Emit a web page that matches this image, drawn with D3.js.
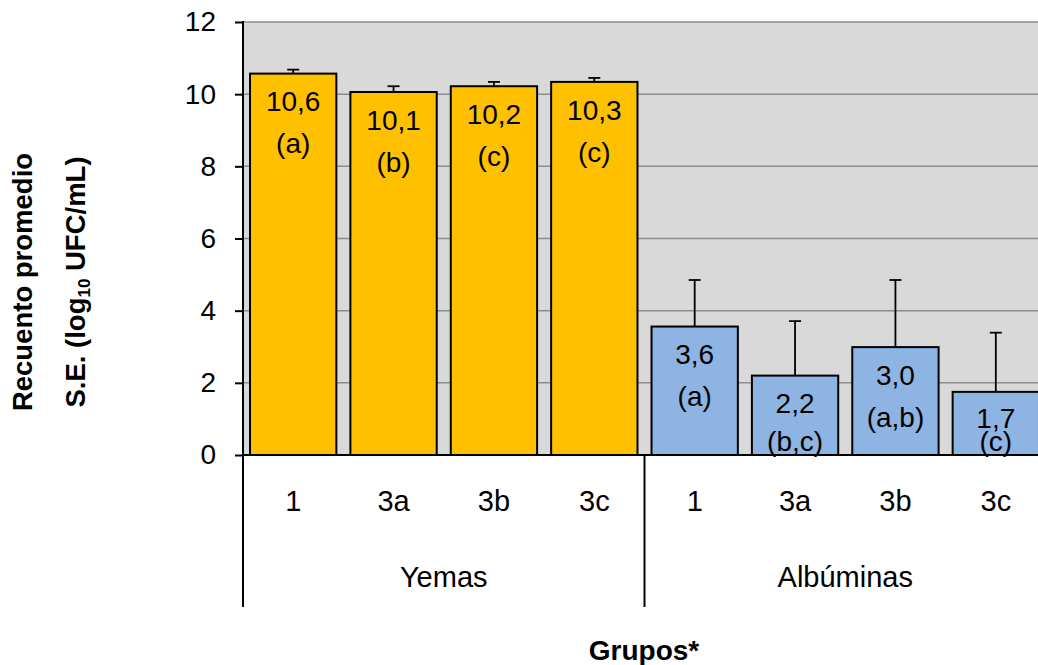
<!DOCTYPE html>
<html>
<head>
<meta charset="utf-8">
<script src="https://cdn.jsdelivr.net/npm/d3@7"></script>
<style>
  body { margin: 0; background: #fff; }
  svg text { font-family: "Liberation Sans", Arial, sans-serif; fill: #000; }
</style>
</head>
<body>
<svg width="1038" height="665"></svg>
<script>
// Data
const groups = ["Yemas", "Albúminas"];
const categories = ["1", "3a", "3b", "3c", "1", "3a", "3b", "3c"];
const groupOf = [0, 0, 0, 0, 1, 1, 1, 1];
const means = [10.57, 10.06, 10.22, 10.34, 3.56, 2.2, 2.99, 1.75];
const errors = [0.11, 0.16, 0.12, 0.11, 1.29, 1.51, 1.86, 1.64];
const valueLabels = ["10,6", "10,1", "10,2", "10,3", "3,6", "2,2", "3,0", "1,7"];
const letterLabels = ["(a)", "(b)", "(c)", "(c)", "(a)", "(b,c)", "(a,b)", "(c)"];
const yTicks = [0, 2, 4, 6, 8, 10, 12];

const groupColors = ["#ffc000", "#8db4e2"];

const svg = d3.select("svg");
const pLeft = 243, pRight = 1046, pTop = 22, pBottom = 455;

// scales
const x = d3.scaleBand()
    .domain(d3.range(categories.length))
    .range([pLeft, pRight])
    .paddingInner(0.14)
    .paddingOuter(0.07);
const y = d3.scaleLinear().domain([0, 12]).range([pBottom, pTop]);

// plot background
svg.append("rect")
    .attr("x", pLeft).attr("y", pTop)
    .attr("width", pRight - pLeft).attr("height", pBottom - pTop)
    .attr("fill", "#d9d9d9");

// gridlines
svg.append("g").selectAll("line")
    .data(yTicks.filter(d => d > 0))
    .enter().append("line")
    .attr("x1", pLeft).attr("x2", pRight)
    .attr("y1", d => y(d)).attr("y2", d => y(d))
    .attr("stroke", "#8c8c8c").attr("stroke-width", 1.5);

// bars
svg.append("g").selectAll("rect")
    .data(means)
    .enter().append("rect")
    .attr("x", (d, i) => x(i))
    .attr("y", d => y(d))
    .attr("width", x.bandwidth())
    .attr("height", d => y(0) - y(d))
    .attr("fill", (d, i) => groupColors[groupOf[i]])
    .attr("stroke", "#000").attr("stroke-width", 2);

// error bars (upper only)
const eb = svg.append("g").attr("stroke", "#000").attr("stroke-width", 1.8);
means.forEach((m, i) => {
    const cx = x(i) + x.bandwidth() / 2;
    eb.append("line").attr("x1", cx).attr("x2", cx).attr("y1", y(m)).attr("y2", y(m + errors[i]));
    eb.append("line").attr("x1", cx - 6).attr("x2", cx + 6).attr("y1", y(m + errors[i])).attr("y2", y(m + errors[i]));
});

// labels inside bars
means.forEach((m, i) => {
    const cx = x(i) + x.bandwidth() / 2;
    const letterY = Math.min(y(m) + 70, y(0) - 14);
    const valueY = Math.min(y(m) + 28, letterY - 23);
    svg.append("text").attr("x", cx).attr("y", valueY).attr("dy", "0.35em")
        .attr("text-anchor", "middle").style("font-size", "28px").text(valueLabels[i]);
    svg.append("text").attr("x", cx).attr("y", letterY).attr("dy", "0.35em")
        .attr("text-anchor", "middle").style("font-size", "28px").text(letterLabels[i]);
});

// y axis
const yAxis = svg.append("g")
    .attr("transform", `translate(${pLeft},0)`)
    .call(d3.axisLeft(y).tickValues(yTicks).tickSize(8).tickSizeOuter(0).tickPadding(19));
yAxis.select(".domain").remove();
yAxis.selectAll("line").attr("stroke", "#000").attr("stroke-width", 2);
yAxis.selectAll("text").style("font-size", "28px").attr("font-family", null);

// axis lines and group separators
const sepBottom = 607;
svg.append("line").attr("x1", pLeft).attr("x2", pLeft).attr("y1", pTop - 1).attr("y2", sepBottom)
    .attr("stroke", "#000").attr("stroke-width", 2);
svg.append("line").attr("x1", pLeft).attr("x2", pRight).attr("y1", y(0)).attr("y2", y(0))
    .attr("stroke", "#000").attr("stroke-width", 2);
const groupEdges = groups.map((g, k) => {
    const idx = d3.range(categories.length).filter(i => groupOf[i] === k);
    const s = x.step();
    const x0 = x(idx[0]) - s * x.paddingInner() / 2;
    const x1 = x(idx[idx.length - 1]) + x.bandwidth() + s * x.paddingInner() / 2;
    return { name: g, x0: k === 0 ? pLeft : x0, x1: k === groups.length - 1 ? pRight : x1 };
});
groupEdges.slice(1).forEach(e => {
    svg.append("line").attr("x1", e.x0).attr("x2", e.x0).attr("y1", y(0)).attr("y2", sepBottom)
        .attr("stroke", "#000").attr("stroke-width", 2);
});

// category labels
const xAxis = svg.append("g")
    .attr("transform", `translate(0,${y(0)})`)
    .call(d3.axisBottom(x).tickFormat(i => categories[i]).tickSize(0).tickPadding(35));
xAxis.select(".domain").remove();
xAxis.selectAll("text").style("font-size", "29px").attr("font-family", null);

// group labels
svg.append("g").selectAll("text")
    .data(groupEdges)
    .enter().append("text")
    .attr("x", d => (d.x0 + d.x1) / 2)
    .attr("y", 587)
    .attr("text-anchor", "middle")
    .style("font-size", "29px")
    .text(d => d.name);

// axis titles
const yTitle = svg.append("text")
    .attr("transform", "translate(0,282) rotate(-90)")
    .attr("text-anchor", "middle")
    .style("font-size", "27.5px").style("font-weight", "bold");
yTitle.append("tspan").attr("x", 0).attr("y", 32).text("Recuento promedio");
const l2 = yTitle.append("tspan").attr("x", 0).attr("y", 85);
l2.append("tspan").text("S.E. (log");
l2.append("tspan").attr("dy", 5).style("font-size", "17px").text("10");
l2.append("tspan").attr("dy", -5).text(" UFC/mL)");

svg.append("text")
    .attr("x", 644).attr("y", 660)
    .attr("text-anchor", "middle")
    .style("font-size", "28px").style("font-weight", "bold")
    .text("Grupos*");
</script>
</body>
</html>
